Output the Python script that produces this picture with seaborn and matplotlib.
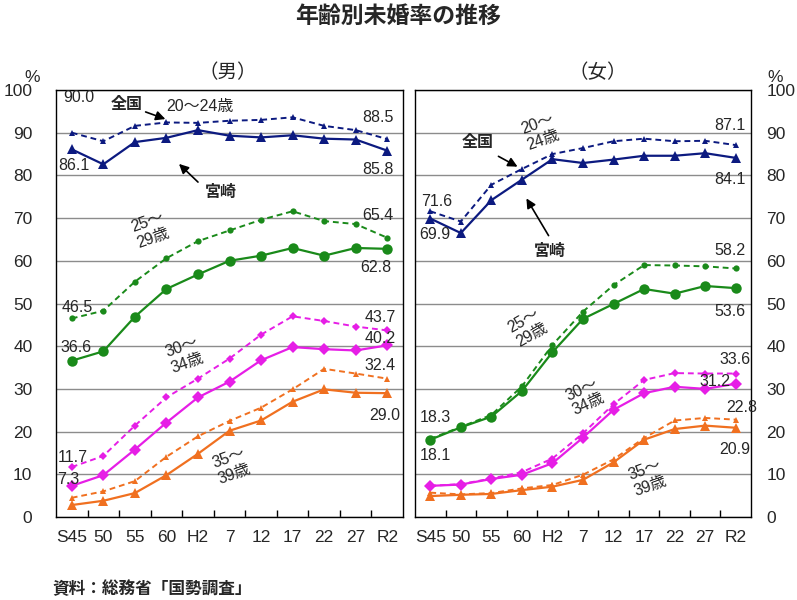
import matplotlib
matplotlib.use('Agg')
import matplotlib.pyplot as plt
import seaborn as sns
import pandas as pd
import numpy as np

# --- データ (国勢調査 年齢別未婚率, %) ---
years = ['S45', '50', '55', '60', 'H2', '7', '12', '17', '22', '27', 'R2']

# 男性
m_20_miyazaki = [86.1, 82.6, 87.8, 88.8, 90.6, 89.3, 88.9, 89.4, 88.6, 88.4, 85.8]
m_20_zenkoku = [90.0, 88.0, 91.6, 92.4, 92.3, 92.8, 93.0, 93.6, 91.6, 90.6, 88.5]
m_25_miyazaki = [36.6, 38.8, 46.9, 53.4, 56.8, 60.0, 61.2, 63.0, 61.2, 63.0, 62.8]
m_25_zenkoku = [46.5, 48.3, 55.1, 60.6, 64.6, 67.1, 69.6, 71.6, 69.3, 68.6, 65.4]
m_30_miyazaki = [7.3, 9.8, 15.8, 22.1, 28.0, 31.7, 36.7, 39.8, 39.3, 39.0, 40.2]
m_30_zenkoku = [11.7, 14.3, 21.4, 28.0, 32.4, 37.1, 42.7, 47.0, 45.9, 44.6, 43.7]
m_35_miyazaki = [2.8, 3.8, 5.6, 9.8, 14.8, 20.2, 22.6, 27.0, 29.9, 29.1, 29.0]
m_35_zenkoku = [4.5, 6.0, 8.4, 14.1, 18.9, 22.5, 25.6, 29.9, 34.7, 33.6, 32.4]

# 女性
f_20_miyazaki = [69.9, 66.5, 74.2, 79.0, 83.8, 82.9, 83.7, 84.6, 84.6, 85.2, 84.1]
f_20_zenkoku = [71.6, 69.2, 77.8, 81.5, 85.0, 86.4, 88.0, 88.6, 88.0, 88.1, 87.1]
f_25_miyazaki = [18.1, 21.0, 23.5, 29.5, 38.6, 46.4, 49.9, 53.4, 52.3, 54.1, 53.6]
f_25_zenkoku = [18.3, 21.1, 23.9, 30.6, 40.3, 48.1, 54.3, 59.0, 58.9, 58.7, 58.2]
f_30_miyazaki = [7.3, 7.6, 8.9, 9.9, 12.6, 18.6, 25.1, 29.0, 30.5, 30.0, 31.2]
f_30_zenkoku = [7.3, 7.7, 9.0, 10.5, 13.7, 19.6, 26.4, 32.1, 33.7, 33.6, 33.6]
f_35_miyazaki = [4.9, 5.2, 5.4, 6.3, 7.1, 8.7, 12.8, 18.1, 20.6, 21.4, 20.9]
f_35_zenkoku = [5.7, 5.3, 5.6, 6.7, 7.5, 9.9, 13.5, 18.5, 22.6, 23.2, 22.8]

yticks = [0, 10, 20, 30, 40, 50, 60, 70, 80, 90, 100]

# 年齢階級ごとの色とマーカー
styles = {
    '20': ('#0c1a80', '^'),
    '25': ('#1a8a1a', 'o'),
    '30': ('#e61ee6', 'D'),
    '35': ('#f07020', '^'),
}

sns.set_theme(style='white')
plt.rcParams['font.family'] = ['Liberation Sans', 'Noto Sans CJK JP']
plt.rcParams['axes.unicode_minus'] = False

W, H = 797, 600
fig = plt.figure(figsize=(W / 100, H / 100), dpi=100)


def px(x, y):
    return x / W, 1 - y / H


ax_m = fig.add_axes([56 / W, 1 - 517 / H, 347 / W, 427 / H])
ax_f = fig.add_axes([415 / W, 1 - 517 / H, 336 / W, 427 / H])

idx = np.arange(len(years))


def draw_panel(ax, series):
    for key, (miya, zen) in series.items():
        color, marker = styles[key]
        big = 7.5 if marker != 'D' else 6
        df = pd.DataFrame({'x': idx, 'miya': miya, 'zen': zen})
        sns.lineplot(data=df, x='x', y='zen', ax=ax, color=color,
                     linestyle=(0, (3, 2)), linewidth=1.4, marker=marker,
                     markersize=4.5, markeredgewidth=0, legend=False)
        sns.lineplot(data=df, x='x', y='miya', ax=ax, color=color,
                     linewidth=1.6, marker=marker, markersize=big,
                     markeredgewidth=0, legend=False)
    ax.set_xlim(-0.5, len(years) - 0.5)
    ax.set_ylim(0, 100)
    ax.set_yticks(yticks)
    ax.set_xticks(idx)
    ax.set_xticklabels(years, fontsize=12.5)
    ax.set_xticks(np.arange(0.5, len(years) - 1, 1), minor=True)
    ax.tick_params(axis='x', which='major', length=0, pad=9)
    ax.tick_params(axis='x', which='minor', length=5, width=1,
                   direction='in', bottom=True, color='black')
    ax.tick_params(axis='y', length=0, labelsize=12.5, pad=17)
    ax.set_xlabel('')
    ax.set_ylabel('')
    ax.yaxis.grid(True, color='#8c8c8c', linewidth=1)
    ax.xaxis.grid(False)
    ax.set_axisbelow(True)
    for s in ax.spines.values():
        s.set_color('black')
        s.set_linewidth(1)


draw_panel(ax_m, {'20': (m_20_miyazaki, m_20_zenkoku),
                  '25': (m_25_miyazaki, m_25_zenkoku),
                  '30': (m_30_miyazaki, m_30_zenkoku),
                  '35': (m_35_miyazaki, m_35_zenkoku)})
draw_panel(ax_f, {'20': (f_20_miyazaki, f_20_zenkoku),
                  '25': (f_25_miyazaki, f_25_zenkoku),
                  '30': (f_30_miyazaki, f_30_zenkoku),
                  '35': (f_35_miyazaki, f_35_zenkoku)})
ax_f.yaxis.tick_right()
ax_f.tick_params(axis='y', which='both', left=False, right=False,
                 labelleft=False, labelright=True, pad=11)

# タイトル類
fig.text(*px(398, 16), '年齢別未婚率の推移', ha='center', va='center',
         fontsize=16.5, fontweight='bold')
fig.text(*px(228, 73), '（男）', ha='center', va='center', fontsize=14)
fig.text(*px(598, 73), '（女）', ha='center', va='center', fontsize=14)
fig.text(*px(32, 77), '%', ha='center', va='center', fontsize=12.5)
fig.text(*px(775, 77), '%', ha='center', va='center', fontsize=12.5)
fig.text(*px(52, 589), '資料：総務省「国勢調査」', ha='left', va='center',
         fontsize=12, fontweight='bold')

# 数値ラベル
labels = [
    (79, 98, '90.0'), (74, 166, '86.1'), (378, 117, '88.5'), (378, 170, '85.8'),
    (378, 216, '65.4'), (376, 267, '62.8'), (77, 308, '46.5'), (76, 348, '36.6'),
    (380, 317, '43.7'), (380, 339, '40.2'), (380, 365, '32.4'), (385, 415, '29.0'),
    (73, 458, '11.7'), (68, 479, '7.3'),
    (437, 202, '71.6'), (435, 235, '69.9'), (730, 125, '87.1'), (730, 180, '84.1'),
    (730, 250, '58.2'), (730, 312, '53.6'), (435, 418, '18.3'), (435, 455, '18.1'),
    (735, 360, '33.6'), (715, 382, '31.2'), (742, 407, '22.8'), (735, 450, '20.9'),
]
for x, y, t in labels:
    fig.text(*px(x, y), t, ha='center', va='center', fontsize=11.5)

# 年齢階級ラベル (斜め)
age_labels = [
    (200, 107, '20～24歳', 0), (150, 230, '25～\n29歳', 20),
    (185, 355, '30～\n34歳', 20), (232, 466, '35～\n39歳', 20),
    (540, 132, '20～\n24歳', 20), (528, 328, '25～\n29歳', 30),
    (585, 397, '30～\n34歳', 25), (648, 478, '35～\n39歳', 20),
]
for x, y, t, r in age_labels:
    fig.text(*px(x, y), t, ha='center', va='center', fontsize=11.5,
             rotation=r, linespacing=1.1)

# 全国・宮崎 矢印
arrows = [
    ('全国', (127, 105), (143, 111), (168, 120)),
    ('宮崎', (221, 192), (200, 184), (177, 162)),
    ('全国', (478, 142), (496, 155), (520, 168)),
    ('宮崎', (550, 251), (550, 238), (525, 196)),
]
for t, tpos, start, end in arrows:
    fig.text(*px(*tpos), t, ha='center', va='center', fontsize=11.5,
             fontweight='bold')
    fig.add_artist(matplotlib.patches.FancyArrowPatch(
        px(*start), px(*end), transform=fig.transFigure,
        arrowstyle='-|>', mutation_scale=14, color='black', linewidth=1.2))

fig.savefig('out.png', dpi=100)
